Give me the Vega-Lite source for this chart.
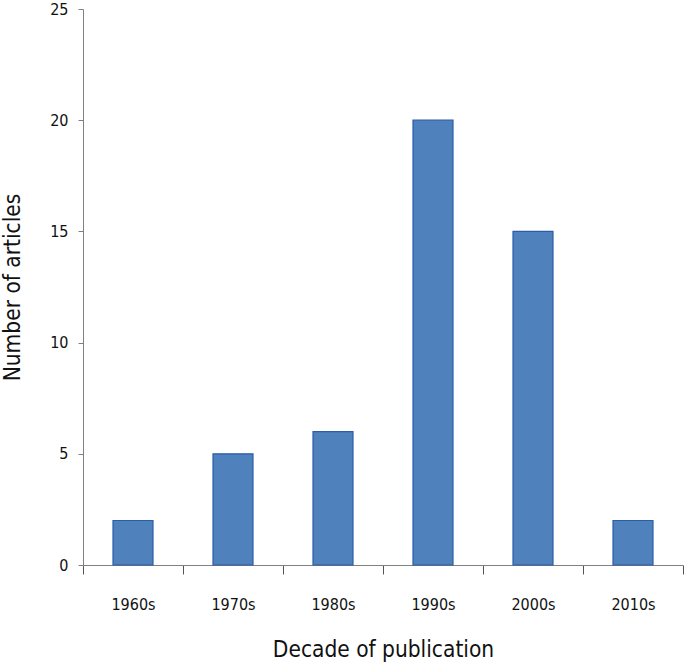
{
  "$schema": "https://vega.github.io/schema/vega-lite/v6.json",
  "width": 600,
  "height": 556,
  "autosize": {"type": "none"},
  "padding": {"left": 83, "top": 9, "right": 2, "bottom": 98},
  "background": "white",
  "config": {"view": {"stroke": null}, "font": "DejaVu Sans Condensed"},
  "data": {"values": [
    {"decade": "1960s", "articles": 2},
    {"decade": "1970s", "articles": 5},
    {"decade": "1980s", "articles": 6},
    {"decade": "1990s", "articles": 20},
    {"decade": "2000s", "articles": 15},
    {"decade": "2010s", "articles": 2}
  ]},
  "mark": {"type": "bar", "fill": "#4F81BD", "stroke": "#2C5DA8", "strokeWidth": 1.2, "width": {"band": 0.4}},
  "encoding": {
    "x": {
      "field": "decade", "type": "nominal", "sort": null,
      "scale": {"paddingInner": 0, "paddingOuter": 0},
      "axis": {
        "title": "Decade of publication", "labelAngle": 0,
        "domainColor": "#808080", "tickColor": "#555", "tickSize": 9, "tickBand": "extent",
        "labelFontSize": 16, "labelPadding": 22, "labelColor": "#111",
        "titleFontSize": 22.5, "titleFontWeight": "normal", "titlePadding": 26, "titleColor": "#111",
        "labelFont": "DejaVu Sans Condensed", "titleFont": "DejaVu Sans Condensed"
      }
    },
    "y": {
      "field": "articles", "type": "quantitative",
      "scale": {"domain": [0, 25]},
      "axis": {
        "title": "Number of articles", "values": [0, 5, 10, 15, 20, 25], "grid": false,
        "domainColor": "#808080", "tickColor": "#808080", "tickSize": 5,
        "labelFontSize": 16, "labelPadding": 10, "labelColor": "#111",
        "titleFontSize": 22.5, "titleFontWeight": "normal", "titlePadding": 25, "titleColor": "#111",
        "labelFont": "DejaVu Sans Condensed", "titleFont": "DejaVu Sans Condensed"
      }
    }
  }
}
